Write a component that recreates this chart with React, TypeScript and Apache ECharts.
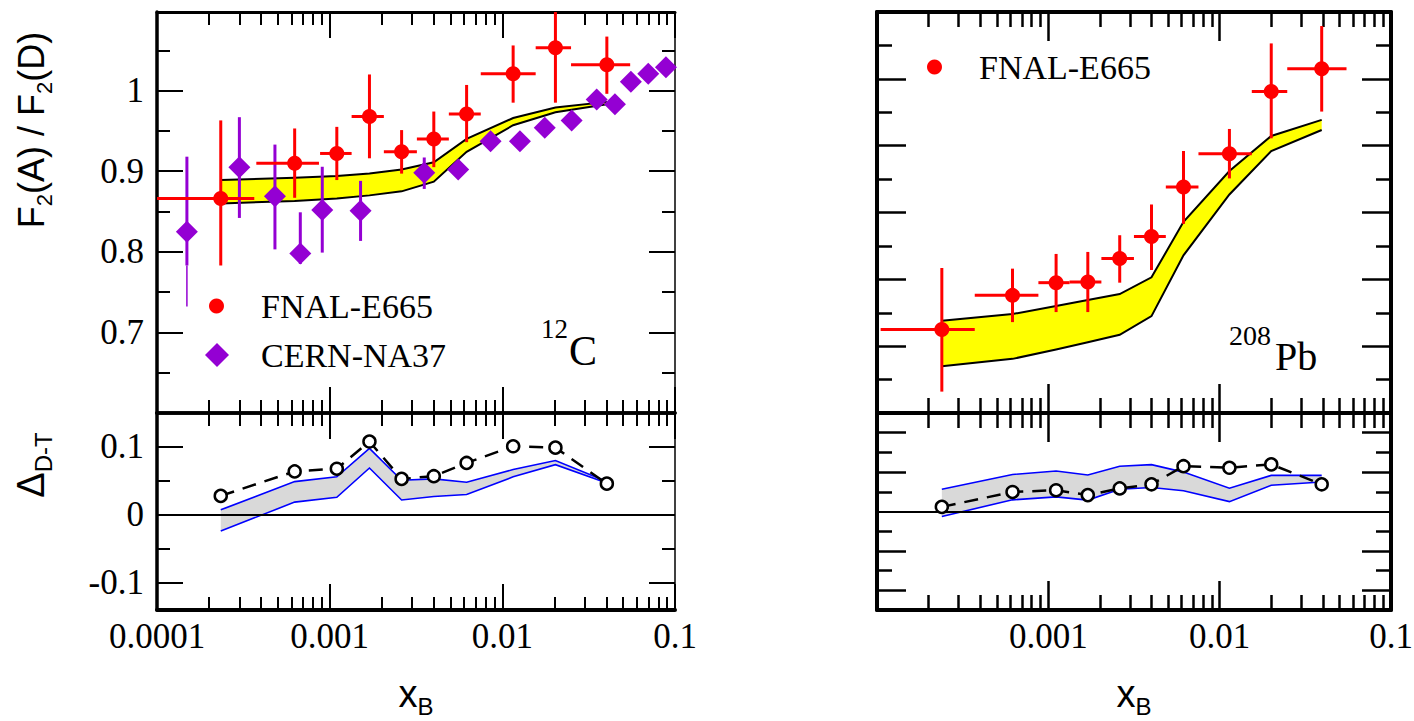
import React, { useEffect, useRef } from 'react';
import * as echarts from 'echarts';

// ---------------- data: 12C (left column) ----------------
const xE665C = [2.34e-4, 6.27e-4, 1.10e-3, 1.70e-3, 2.61e-3, 4.01e-3, 6.21e-3, 1.155e-2, 2.03e-2, 4.03e-2];
const xLoE665C = [1.0e-4, 3.76e-4, 8.8e-4, 1.34e-3, 2.06e-3, 3.2e-3, 4.9e-3, 7.5e-3, 1.56e-2, 2.5e-2];
const xHiE665C = [3.66e-4, 8.67e-4, 1.34e-3, 2.06e-3, 3.2e-3, 4.9e-3, 7.5e-3, 1.56e-2, 2.5e-2, 5.5e-2];
const rE665C = [0.866, 0.910, 0.922, 0.968, 0.924, 0.940, 0.971, 1.021, 1.053, 1.032];
const rLoE665C = [0.783, 0.867, 0.889, 0.916, 0.897, 0.905, 0.936, 0.985, 0.985, 0.996];
const rHiE665C = [0.963, 0.953, 0.955, 1.020, 0.951, 0.974, 1.007, 1.056, 1.0975, 1.067];

const xNA37C = [1.49e-4, 3.0e-4, 4.82e-4, 6.76e-4, 9.06e-4, 1.51e-3, 3.53e-3, 5.55e-3, 8.55e-3, 1.265e-2, 1.76e-2, 2.52e-2, 3.52e-2, 4.49e-2, 5.55e-2, 7.0e-2, 8.86e-2];
const rNA37C = [0.825, 0.905, 0.869, 0.798, 0.852, 0.851, 0.898, 0.902, 0.937, 0.937, 0.954, 0.963, 0.989, 0.983, 1.011, 1.021, 1.029];
const rLoNA37C = [0.783, 0.842, 0.803, 0.785, 0.799, 0.8135, 0.878, 0.902, 0.937, 0.937, 0.954, 0.963, 0.989, 0.983, 1.011, 1.021, 1.029];
const rHiNA37C = [0.918, 0.967, 0.933, 0.849, 0.9055, 0.888, 0.917, 0.902, 0.937, 0.937, 0.954, 0.963, 0.989, 0.983, 1.011, 1.021, 1.029];
// thin lower extension of the first NA37 error bar
const xNA37Thin = [1.49e-4];
const rNA37Thin = [0.825];
const rLoNA37Thin = [0.732];
const rHiNA37Thin = [0.783];

const bandHiC = [0.889, 0.892, 0.894, 0.897, 0.902, 0.911, 0.940, 0.966, 0.979, 0.986];
const bandLoC = [0.860, 0.863, 0.866, 0.870, 0.875, 0.887, 0.924, 0.957, 0.973, 0.983];

const deltaC = [0.028, 0.064, 0.068, 0.108, 0.053, 0.057, 0.0765, 0.101, 0.099, 0.046];
const deltaHiC = [0.0074, 0.049, 0.056, 0.098, 0.051, 0.053, 0.048, 0.0667, 0.080, 0.049];
const deltaLoC = [-0.0237, 0.0188, 0.026, 0.069, 0.022, 0.027, 0.030, 0.056, 0.074, 0.047];

// ---------------- data: 208Pb (right column) ----------------
const xE665Pb = [2.39e-4, 6.18e-4, 1.11e-3, 1.70e-3, 2.61e-3, 4.0e-3, 6.15e-3, 1.14e-2, 2.0e-2, 3.94e-2];
const xLoE665Pb = [1.05e-4, 3.72e-4, 8.75e-4, 1.33e-3, 2.04e-3, 3.16e-3, 4.85e-3, 7.52e-3, 1.54e-2, 2.48e-2];
const xHiE665Pb = [3.72e-4, 8.75e-4, 1.33e-3, 2.04e-3, 3.16e-3, 4.85e-3, 7.52e-3, 1.54e-2, 2.48e-2, 5.5e-2];
const rE665Pb = [0.625, 0.676, 0.695, 0.696, 0.731, 0.764, 0.838, 0.888, 0.981, 1.015];
const rLoE665Pb = [0.532, 0.636, 0.651, 0.651, 0.695, 0.714, 0.783, 0.851, 0.911, 0.951];
const rHiE665Pb = [0.717, 0.716, 0.738, 0.741, 0.766, 0.812, 0.892, 0.925, 1.053, 1.079];

const bandHiPb = [0.638, 0.648, 0.660, 0.669, 0.678, 0.703, 0.786, 0.862, 0.9145, 0.9386];
const bandLoPb = [0.570, 0.581, 0.595, 0.606, 0.617, 0.645, 0.736, 0.827, 0.892, 0.9235];

const deltaPb = [0.0059, 0.0248, 0.027, 0.0208, 0.0293, 0.0345, 0.0575, 0.0555, 0.0598, 0.0345];
const deltaHiPb = [0.0283, 0.047, 0.0513, 0.0463, 0.0575, 0.0595, 0.050, 0.0295, 0.0458, 0.0458];
const deltaLoPb = [-0.0063, 0.0148, 0.0185, 0.0145, 0.0283, 0.0305, 0.0263, 0.0125, 0.0333, 0.0375];

// ---------------- ticks / labels ----------------
const X_MAJOR = [1e-4, 1e-3, 1e-2, 1e-1];
const X_MINOR_MULT = [2, 3, 4, 5, 6, 7, 8, 9];
const X_MINOR = [1e-4, 1e-3, 1e-2].flatMap((d) => X_MINOR_MULT.map((m) => Number((m * d).toPrecision(3))));
const X_LABELS_LEFT = [1e-4, 1e-3, 1e-2, 1e-1];
const X_LABELS_RIGHT = [1e-3, 1e-2, 1e-1];

const Y_TL_MAJOR = [0.7, 0.8, 0.9, 1.0];
const Y_TL_MINOR = [0.65, 0.75, 0.85, 0.95, 1.05];
const Y_TL_LABELS = [0.7, 0.8, 0.9, 1];
const Y_BL_MAJOR = [-0.1, 0, 0.1];
const Y_BL_MINOR = [-0.05, 0.05];
const Y_BL_LABELS = [-0.1, 0, 0.1];
const Y_TR_MAJOR = [0.6, 0.7, 0.8, 0.9, 1.0];
const Y_TR_MINOR = [0.55, 0.65, 0.75, 0.85, 0.95, 1.05];
const Y_BR_MAJOR = [-0.1, -0.05, 0.05, 0.1];
const Y_BR_MINOR = [-0.075, -0.025, 0.025, 0.075];

const SERIF = 'Liberation Serif';
const SANS = 'Liberation Sans';
const RED = '#ff0000';
const PURPLE = '#9400d3';
const TICK_FONT = 35;

const fmtX = (v: number) => String(Number(Number(v).toPrecision(3)));
const fmtY = (v: number) => String(Number(Number(v).toFixed(3)));

type Spec = {
  g: number;
  left: number; top: number; width: number; height: number;
  yMin: number; yMax: number;
  yMajor: number[]; yMinor: number[]; yLabels: number[] | null;
  xLabels: number[] | null;
  tMaj: number; tMin: number; tW: number;
  lwL: number; lwR: number; lwT: number; lwB: number;
};

const specs: Spec[] = [
  { g: 0, left: 157, top: 12, width: 518, height: 401, yMin: 0.6, yMax: 1.0975,
    yMajor: Y_TL_MAJOR, yMinor: Y_TL_MINOR, yLabels: Y_TL_LABELS, xLabels: null,
    tMaj: 26, tMin: 13, tW: 2, lwL: 3.5, lwR: 1.5, lwT: 3, lwB: 3.5 },
  { g: 1, left: 157, top: 413, width: 518, height: 197, yMin: -0.14, yMax: 0.15,
    yMajor: Y_BL_MAJOR, yMinor: Y_BL_MINOR, yLabels: Y_BL_LABELS, xLabels: X_LABELS_LEFT,
    tMaj: 26, tMin: 13, tW: 2, lwL: 3.5, lwR: 1.5, lwT: 3.5, lwB: 4 },
  { g: 2, left: 877, top: 12, width: 514, height: 401, yMin: 0.5, yMax: 1.1,
    yMajor: Y_TR_MAJOR, yMinor: Y_TR_MINOR, yLabels: null, xLabels: null,
    tMaj: 29, tMin: 15, tW: 2.5, lwL: 4, lwR: 4, lwT: 4, lwB: 4 },
  { g: 3, left: 877, top: 413, width: 514, height: 197, yMin: -0.125, yMax: 0.125,
    yMajor: Y_BR_MAJOR, yMinor: Y_BR_MINOR, yLabels: null, xLabels: X_LABELS_RIGHT,
    tMaj: 29, tMin: 15, tW: 2.5, lwL: 4, lwR: 4, lwT: 4, lwB: 4 },
];

function buildAxes(s: Spec) {
  const xs: any[] = [];
  const ys: any[] = [];
  const tickStyle = { color: '#000', width: s.tW };
  const xCommon = {
    gridIndex: s.g, type: 'log', logBase: 10, min: 1e-4, max: 0.1,
    splitLine: { show: false }, minorTick: { show: false }, minorSplitLine: { show: false }, silent: true,
  };
  (['bottom', 'top'] as const).forEach((pos) => {
    const lw = pos === 'bottom' ? s.lwB : s.lwT;
    const withLabels = pos === 'bottom' && s.xLabels;
    xs.push({
      ...xCommon, position: pos,
      axisLine: { show: true, onZero: false, lineStyle: { color: '#000', width: lw } },
      axisTick: { show: true, inside: true, length: s.tMaj, lineStyle: tickStyle, customValues: X_MAJOR },
      axisLabel: withLabels
        ? { show: true, customValues: s.xLabels, formatter: fmtX, fontFamily: SERIF, fontSize: TICK_FONT,
            color: '#000', margin: 9, showMinLabel: true, showMaxLabel: true, hideOverlap: false }
        : { show: false },
    });
    xs.push({
      ...xCommon, position: pos,
      axisLine: { show: false, onZero: false },
      axisTick: { show: true, inside: true, length: s.tMin, lineStyle: tickStyle, customValues: X_MINOR },
      axisLabel: { show: false },
    });
  });
  const yCommon = {
    gridIndex: s.g, type: 'value', min: s.yMin, max: s.yMax,
    splitLine: { show: false }, minorTick: { show: false }, silent: true,
  };
  (['left', 'right'] as const).forEach((pos) => {
    const lw = pos === 'left' ? s.lwL : s.lwR;
    const withLabels = pos === 'left' && s.yLabels;
    ys.push({
      ...yCommon, position: pos,
      axisLine: { show: true, onZero: false, lineStyle: { color: '#000', width: lw } },
      axisTick: { show: true, inside: true, length: s.tMaj, lineStyle: tickStyle, customValues: s.yMajor },
      axisLabel: withLabels
        ? { show: true, customValues: s.yLabels, formatter: fmtY, fontFamily: SERIF, fontSize: TICK_FONT,
            color: '#000', margin: 13, showMinLabel: true, showMaxLabel: true, hideOverlap: false }
        : { show: false },
    });
    ys.push({
      ...yCommon, position: pos,
      axisLine: { show: false, onZero: false },
      axisTick: { show: true, inside: true, length: s.tMin, lineStyle: tickStyle, customValues: s.yMinor },
      axisLabel: { show: false },
    });
  });
  return { xs, ys };
}

function bandSeries(g: number, name: string, xs: number[], lo: number[], hi: number[], fill: string, edge: string, edgeW: number) {
  return {
    type: 'custom', name, xAxisIndex: 4 * g, yAxisIndex: 4 * g, clip: true, silent: true,
    encode: { x: 0, y: [1, 2] },
    data: xs.map((x, i) => [x, lo[i], hi[i]]),
    renderItem: (params: any, api: any) => {
      if (params.dataIndex !== 0) return null;
      const up = xs.map((x, i) => api.coord([x, hi[i]]));
      const dn = xs.map((x, i) => api.coord([x, lo[i]]));
      return {
        type: 'group',
        children: [
          { type: 'polygon', shape: { points: [...up, ...dn.slice().reverse()] }, style: { fill, stroke: null } },
          { type: 'polyline', shape: { points: up }, style: { stroke: edge, lineWidth: edgeW, fill: null } },
          { type: 'polyline', shape: { points: dn }, style: { stroke: edge, lineWidth: edgeW, fill: null } },
        ],
      };
    },
  };
}

function errorSeries(g: number, name: string, xs: number[], ys: number[], xlo: number[] | null, xhi: number[] | null,
  ylo: number[], yhi: number[], color: string, lw: number) {
  return {
    type: 'custom', name, xAxisIndex: 4 * g, yAxisIndex: 4 * g, clip: true, silent: true,
    encode: { x: 0, y: 1 },
    data: xs.map((x, i) => [x, ys[i], xlo ? xlo[i] : x, xhi ? xhi[i] : x, ylo[i], yhi[i]]),
    renderItem: (params: any, api: any) => {
      const x = api.value(0), y = api.value(1);
      const children: any[] = [];
      const p1 = api.coord([x, api.value(4)]);
      const p2 = api.coord([x, api.value(5)]);
      if (Math.abs(p1[1] - p2[1]) > 0.5) {
        children.push({ type: 'line', shape: { x1: p1[0], y1: p1[1], x2: p2[0], y2: p2[1] }, style: { stroke: color, lineWidth: lw } });
      }
      const q1 = api.coord([api.value(2), y]);
      const q2 = api.coord([api.value(3), y]);
      if (Math.abs(q1[0] - q2[0]) > 0.5) {
        children.push({ type: 'line', shape: { x1: q1[0], y1: q1[1], x2: q2[0], y2: q2[1] }, style: { stroke: color, lineWidth: lw } });
      }
      return { type: 'group', children };
    },
  };
}

function pointSeries(g: number, name: string, xs: number[], ys: number[], symbol: string, size: number, color: string) {
  return {
    type: 'scatter', name, xAxisIndex: 4 * g, yAxisIndex: 4 * g, symbol, symbolSize: size,
    itemStyle: { color, opacity: 1 }, silent: true,
    data: xs.map((x, i) => [x, ys[i]]),
  };
}

function deltaSeries(g: number, name: string, xs: number[], ys: number[]) {
  return {
    type: 'line', name, xAxisIndex: 4 * g, yAxisIndex: 4 * g, silent: true,
    data: xs.map((x, i) => [x, ys[i]]),
    showSymbol: true, showAllSymbol: true, symbol: 'circle', symbolSize: 12,
    lineStyle: { color: '#000', width: 2.5, type: [14, 9] },
    itemStyle: { color: '#fff', borderColor: '#000', borderWidth: 2.5 },
    z: 5,
    markLine: {
      silent: true, symbol: ['none', 'none'], label: { show: false },
      lineStyle: { color: '#000', width: 2, type: 'solid' },
      data: [{ yAxis: 0 }],
    },
  };
}

const sansRich = (main: number, sub: number) => ({
  m: { fontFamily: SANS, fontSize: main, lineHeight: 48, fill: '#000', color: '#000' },
  s: { fontFamily: SANS, fontSize: sub, lineHeight: 22, verticalAlign: 'bottom', fill: '#000', color: '#000' },
});

function buildOption() {
  const xAxis: any[] = [];
  const yAxis: any[] = [];
  specs.forEach((s) => {
    const { xs, ys } = buildAxes(s);
    xAxis.push(...xs);
    yAxis.push(...ys);
  });
  const grid = specs.map((s) => ({
    left: s.left, top: s.top, width: s.width, height: s.height, show: false,
    containLabel: false, outerBoundsMode: 'none',
  }));

  const series: any[] = [
    bandSeries(0, 'band 12C', xE665C, bandLoC, bandHiC, '#ffff00', '#000', 2),
    errorSeries(0, 'NA37 errors', xNA37C, rNA37C, null, null, rLoNA37C, rHiNA37C, PURPLE, 3),
    errorSeries(0, 'NA37 errors thin', xNA37Thin, rNA37Thin, null, null, rLoNA37Thin, rHiNA37Thin, PURPLE, 1.5),
    pointSeries(0, 'CERN-NA37', xNA37C, rNA37C, 'diamond', 22, PURPLE),
    errorSeries(0, 'E665 C errors', xE665C, rE665C, xLoE665C, xHiE665C, rLoE665C, rHiE665C, RED, 3),
    pointSeries(0, 'FNAL-E665', xE665C, rE665C, 'circle', 15, RED),

    bandSeries(1, 'delta band 12C', xE665C, deltaLoC, deltaHiC, '#d9d9d9', '#0000ff', 1.6),
    deltaSeries(1, 'delta 12C', xE665C, deltaC),

    bandSeries(2, 'band 208Pb', xE665Pb, bandLoPb, bandHiPb, '#ffff00', '#000', 2),
    errorSeries(2, 'E665 Pb errors', xE665Pb, rE665Pb, xLoE665Pb, xHiE665Pb, rLoE665Pb, rHiE665Pb, RED, 3),
    pointSeries(2, 'FNAL-E665', xE665Pb, rE665Pb, 'circle', 15, RED),

    bandSeries(3, 'delta band 208Pb', xE665Pb, deltaLoPb, deltaHiPb, '#d9d9d9', '#0000ff', 1.6),
    deltaSeries(3, 'delta 208Pb', xE665Pb, deltaPb),
  ];

  const legendText = (padLeft: number) => ({ fontFamily: SERIF, fontSize: 34, color: '#000', padding: [0, 0, 0, padLeft] });
  const legend = [
    { left: 209, top: 289, itemWidth: 15, itemHeight: 15, itemGap: 0, padding: 0, selectedMode: false,
      data: ['FNAL-E665'], textStyle: legendText(32) },
    { left: 205, top: 338, itemWidth: 24, itemHeight: 24, itemGap: 0, padding: 0, selectedMode: false,
      data: ['CERN-NA37'], textStyle: legendText(27) },
    { left: 927, top: 50, itemWidth: 15, itemHeight: 15, itemGap: 0, padding: 0, selectedMode: false,
      data: ['FNAL-E665'], textStyle: legendText(32) },
  ];

  const graphic: any[] = [
    { type: 'text', x: 31, y: 130, rotation: Math.PI / 2,
      style: { text: '{m|F}{s|2}{m|(A) / F}{s|2}{m|(D)}', rich: sansRich(36, 22), align: 'center', verticalAlign: 'middle', fill: '#000' } },
    { type: 'text', x: 31, y: 465, rotation: Math.PI / 2,
      style: { text: '{m|Δ}{s|D-T}', rich: sansRich(38, 24), align: 'center', verticalAlign: 'middle', fill: '#000' } },
    { type: 'text', x: 416, y: 694,
      style: { text: '{m|x}{s|B}', rich: sansRich(38, 24), align: 'center', verticalAlign: 'middle', fill: '#000' } },
    { type: 'text', x: 1134, y: 694,
      style: { text: '{m|x}{s|B}', rich: sansRich(38, 24), align: 'center', verticalAlign: 'middle', fill: '#000' } },
    { type: 'text', x: 541, y: 329,
      style: { text: '12', fontFamily: SERIF, fontSize: 27, align: 'left', verticalAlign: 'middle', fill: '#000' } },
    { type: 'text', x: 569, y: 351,
      style: { text: 'C', fontFamily: SERIF, fontSize: 42, align: 'left', verticalAlign: 'middle', fill: '#000' } },
    { type: 'text', x: 1229, y: 335,
      style: { text: '208', fontFamily: SERIF, fontSize: 28, align: 'left', verticalAlign: 'middle', fill: '#000' } },
    { type: 'text', x: 1275, y: 356,
      style: { text: 'Pb', fontFamily: SERIF, fontSize: 40, align: 'left', verticalAlign: 'middle', fill: '#000' } },
  ];

  return {
    animation: false,
    backgroundColor: '#fff',
    grid, xAxis, yAxis, series, legend, graphic,
  };
}

export default function App() {
  const ref = useRef<HTMLDivElement>(null);
  useEffect(() => {
    if (!ref.current) return;
    const chart = echarts.init(ref.current, null, { renderer: 'svg' });
    chart.setOption(buildOption() as any);
    return () => chart.dispose();
  }, []);
  return <div ref={ref} style={{ position: 'fixed', left: 0, top: 0, width: 1414, height: 721 }} />;
}
